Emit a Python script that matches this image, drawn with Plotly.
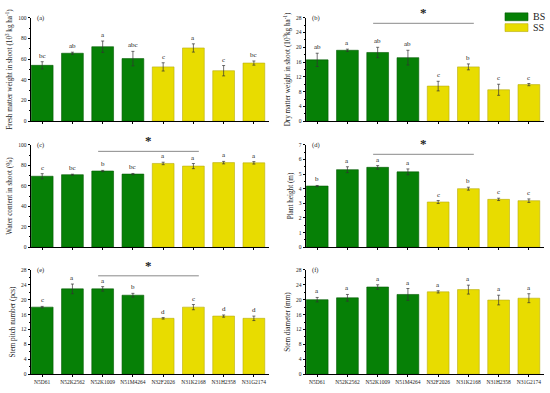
import plotly.graph_objects as go

categories = ["N5D61", "N52K2562", "N52K1009", "N51M4264", "N32F2026", "N31K2168", "N31H2358", "N31G2174"]
groups = ["BS", "BS", "BS", "BS", "SS", "SS", "SS", "SS"]

fresh_vals = [54, 65.7, 72, 60.5, 52.5, 70.8, 48.8, 56.2]
fresh_err = [3.5, 1.0, 5.5, 7.0, 4.0, 4.0, 5.0, 2.0]
fresh_let = ["bc", "ab", "a", "abc", "c", "a", "c", "bc"]

dry_vals = [16.6, 19.2, 18.6, 17.2, 9.5, 14.7, 8.5, 9.9]
dry_err = [1.8, 0.3, 1.4, 2.0, 1.3, 0.8, 1.5, 0.3]
dry_let = ["ab", "a", "ab", "ab", "c", "b", "c", "c"]

water_vals = [69.3, 70.8, 74.4, 71.4, 81.8, 79.2, 82.6, 82.4]
water_err = [2.5, 0.5, 0.6, 0.6, 1.2, 2.5, 1.2, 1.2]
water_let = ["c", "bc", "b", "bc", "a", "a", "a", "a"]

height_vals = [4.18, 5.3, 5.46, 5.15, 3.09, 4.0, 3.27, 3.18]
height_err = [0.04, 0.2, 0.12, 0.2, 0.1, 0.1, 0.08, 0.12]
height_let = ["b", "a", "a", "a", "c", "b", "c", "c"]

pitch_vals = [18.0, 22.9, 22.9, 21.2, 15.0, 18.0, 15.6, 15.0]
pitch_err = [0.2, 1.3, 0.6, 0.5, 0.2, 0.7, 0.3, 0.6]
pitch_let = ["c", "a", "a", "b", "d", "c", "d", "d"]

diam_vals = [20.0, 20.5, 23.4, 21.4, 22.1, 22.7, 19.9, 20.4]
diam_err = [0.6, 0.9, 0.6, 1.6, 0.3, 1.2, 1.3, 1.2]
diam_let = ["a", "a", "a", "a", "a", "a", "a", "a"]

panels = [
    ("(a)", "Fresh matter weight in shoot (10<sup>3</sup> kg ha<sup>-1</sup>)", fresh_vals, fresh_err, fresh_let, 100, 20, None),
    ("(b)", "Dry matter weight in shoot (10<sup>3</sup>kg ha<sup>-1</sup>)", dry_vals, dry_err, dry_let, 28, 4, 26.5),
    ("(c)", "Water content in shoot (%)", water_vals, water_err, water_let, 100, 20, 93.6),
    ("(d)", "Plant height (m)", height_vals, height_err, height_let, 7, 1, 6.35),
    ("(e)", "Stem pitch number (pcs)", pitch_vals, pitch_err, pitch_let, 28, 4, 26.4),
    ("(f)", "Stem diameter (mm)", diam_vals, diam_err, diam_let, 28, 4, None),
]

colors = {"BS": "#068006", "SS": "#e8dc00"}
edge = {"BS": "#035a03", "SS": "#b8ac10"}

W, H = 550, 393
xdoms = [(31 / W, 269 / W), (306 / W, 544 / W)]
ydoms = [(1 - 120 / H, 1 - 15 / H), (1 - 248 / H, 1 - 144 / H), (1 - 377 / H, 1 - 271 / H)]

font = "Liberation Serif"
fig = go.Figure()
layout = dict(width=W, height=H, margin=dict(l=0, r=0, t=0, b=0),
              plot_bgcolor="white", paper_bgcolor="white", showlegend=False,
              font=dict(family=font, color="#222"))
annotations = []
shapes = []
xs = list(range(len(categories)))

for i, (lab, title, vals, errs, lets, ymax, dt, star_y) in enumerate(panels):
    row, col = i // 2, i % 2
    k = "" if i == 0 else str(i + 1)
    xa, ya = "x" + k, "y" + k
    fig.add_trace(go.Bar(
        x=xs, y=vals, xaxis=xa, yaxis=ya, width=0.72,
        marker=dict(color=[colors[g] for g in groups],
                    line=dict(color=[edge[g] for g in groups], width=0.6)),
        error_y=dict(type="data", array=errs, color="#333", thickness=0.7, width=1.5),
    ))
    layout["xaxis" + k] = dict(domain=xdoms[col], anchor=ya, range=[-0.37, 7.5],
                               tickvals=xs, ticktext=categories, showticklabels=(row == 2),
                               showline=True, linecolor="black", linewidth=1,
                               ticks="outside", ticklen=2, tickwidth=0.8, tickcolor="black",
                               tickfont=dict(size=5.5, family=font, color="#222"),
                               showgrid=False, zeroline=False, fixedrange=True)
    layout["yaxis" + k] = dict(domain=ydoms[row], anchor=xa, range=[0, ymax], dtick=dt,
                               showline=True, linecolor="black", linewidth=1,
                               ticks="outside", ticklen=2.5, tickwidth=0.8, tickcolor="black",
                               minor=dict(ticks="outside", ticklen=1.5, tickcolor="black", nticks=2),
                               tickfont=dict(size=5.5, family=font, color="#222"),
                               title=dict(text=title, font=dict(size=7.2, family=font, color="#222"), standoff=4),
                               showgrid=False, zeroline=False, fixedrange=True)
    for j in xs:
        annotations.append(dict(x=j, y=vals[j] + errs[j], xref=xa, yref=ya, text=lets[j],
                                showarrow=False, yanchor="bottom", yshift=0,
                                font=dict(size=7, family=font, color="#222")))
    annotations.append(dict(x=xdoms[col][0] + 0.008, y=ydoms[row][1], xref="paper", yref="paper",
                            text=lab, showarrow=False, xanchor="left", yanchor="middle",
                            font=dict(size=6.5, family=font, color="#222")))
    if star_y is not None:
        shapes.append(dict(type="line", xref=xa, yref=ya, x0=1.85, x1=5.18, y0=star_y, y1=star_y,
                           line=dict(color="#8a8a8a", width=1)))
        annotations.append(dict(x=3.5, y=star_y, xref=xa, yref=ya, text="<b>*</b>", showarrow=False,
                                yanchor="bottom", yshift=1, font=dict(size=13, family=font, color="#222")))

# legend boxes
for (g, y0, y1) in [("BS", 10, 18), ("SS", 21, 29)]:
    shapes.append(dict(type="rect", xref="paper", yref="paper", x0=505 / W, x1=528 / W,
                       y0=1 - y1 / H, y1=1 - y0 / H, fillcolor=colors[g],
                       line=dict(color=edge[g], width=0.6)))
    annotations.append(dict(x=531 / W, y=1 - (y0 + y1) / 2 / H, xref="paper", yref="paper", text=g,
                            showarrow=False, xanchor="left", yanchor="middle",
                            font=dict(size=10, family=font, color="#222")))

layout["annotations"] = annotations
layout["shapes"] = shapes
fig.update_layout(**layout)
fig.write_html("out.html", config={"displayModeBar": False},
               post_script="document.body.style.margin='0';document.body.style.overflow='hidden';")
